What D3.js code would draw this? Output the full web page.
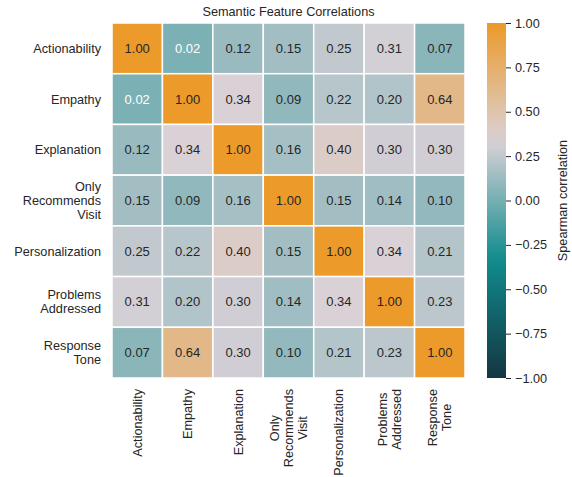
<!DOCTYPE html>
<html>
<head>
<meta charset="utf-8">
<script src="https://cdn.jsdelivr.net/npm/d3@7"></script>
<style>
  body { margin: 0; background: #fff; }
  text { font-family: "Liberation Sans", Arial, sans-serif; fill: #262626; }
</style>
</head>
<body>
<svg width="572" height="477"></svg>
<script>
// features, in row / column order
var features = ['Actionability', 'Empathy', 'Explanation', 'Only Recommends Visit',
                'Personalization', 'Problems Addressed', 'Response Tone'];
// label lines as drawn
var labelLines = [['Actionability'], ['Empathy'], ['Explanation'], ['Only', 'Recommends', 'Visit'],
                  ['Personalization'], ['Problems', 'Addressed'], ['Response', 'Tone']];
// spearman correlation matrix
var corr = [
  [1.00, 0.02, 0.12, 0.15, 0.25, 0.31, 0.07],
  [0.02, 1.00, 0.34, 0.09, 0.22, 0.20, 0.64],
  [0.12, 0.34, 1.00, 0.16, 0.40, 0.30, 0.30],
  [0.15, 0.09, 0.16, 1.00, 0.15, 0.14, 0.10],
  [0.25, 0.22, 0.40, 0.15, 1.00, 0.34, 0.21],
  [0.31, 0.20, 0.30, 0.14, 0.34, 1.00, 0.23],
  [0.07, 0.64, 0.30, 0.10, 0.21, 0.23, 1.00]
];
var cbTicks = [1, 0.75, 0.5, 0.25, 0, -0.25, -0.5, -0.75, -1];
var paletteColors = ['#143642', '#0f8b8d', '#dad2d8', '#ec9a29'];

var svg = d3.select('svg');
var mLeft = 112, mTop = 23, mRight = 465, mBottom = 378;
var fs = '12.7px';

var color = d3.scaleLinear()
    .domain([-1, -1/3, 1/3, 1])
    .range(paletteColors)
    .interpolate(d3.interpolateRgb);

var x = d3.scaleBand().domain(features).range([mLeft, mRight]);
var y = d3.scaleBand().domain(features).range([mTop, mBottom]);

var cells = [];
corr.forEach(function(row, i) {
    row.forEach(function(v, j) { cells.push({r: features[i], c: features[j], v: v}); });
});

var g = svg.append('g');
g.selectAll('rect').data(cells).enter().append('rect')
    .attr('x', function(d) { return x(d.c); })
    .attr('y', function(d) { return y(d.r); })
    .attr('width', x.bandwidth())
    .attr('height', y.bandwidth())
    .attr('fill', function(d) { return color(d.v); })
    .attr('stroke', '#fff')
    .attr('stroke-width', 1.5);

// darker cells (low values) get white text
g.selectAll('text.val').data(cells).enter().append('text')
    .attr('class', 'val')
    .attr('x', function(d) { return x(d.c) + x.bandwidth() / 2; })
    .attr('y', function(d) { return y(d.r) + y.bandwidth() / 2; })
    .attr('dy', '0.35em')
    .attr('text-anchor', 'middle')
    .style('font-size', '13px')
    .style('fill', function(d) { return d.v < 0.05 ? '#ffffff' : '#262626'; })
    .text(function(d) { return d.v.toFixed(2); });

// y labels
features.forEach(function(f, i) {
    var lines = labelLines[i];
    var cy = y(f) + y.bandwidth() / 2;
    var t = svg.append('text')
        .attr('text-anchor', 'end')
        .style('font-size', fs);
    lines.forEach(function(l, k) {
        t.append('tspan')
            .attr('x', mLeft - 11)
            .attr('y', cy + (k - (lines.length - 1) / 2) * 14)
            .attr('dy', '0.35em')
            .text(l);
    });
});

// x labels, rotated; lines centred within the block, block hangs from the top
features.forEach(function(f, i) {
    var lines = labelLines[i];
    var cx = x(f) + x.bandwidth() / 2;
    var t = svg.append('text')
        .attr('text-anchor', 'middle')
        .style('font-size', fs);
    var spans = lines.map(function(l, k) {
        return t.append('tspan')
            .attr('y', (k - (lines.length - 1) / 2) * 14)
            .attr('dy', '0.35em')
            .text(l);
    });
    var maxW = d3.max(spans, function(s) { return s.node().getComputedTextLength(); });
    spans.forEach(function(s) { s.attr('x', -maxW / 2); });
    t.attr('transform', 'translate(' + cx + ',' + (mBottom + 11) + ') rotate(-90)');
});

svg.append('text')
    .attr('x', (mLeft + mRight) / 2)
    .attr('y', 16)
    .attr('text-anchor', 'middle')
    .style('font-size', fs)
    .text('Semantic Feature Correlations');

// colorbar
var cbX = 487, cbW = 19;
var cbScale = d3.scaleLinear().domain([-1, 1]).range([mBottom, mTop]);
var defs = svg.append('defs');
var grad = defs.append('linearGradient').attr('id', 'cbgrad')
    .attr('x1', 0).attr('y1', 1).attr('x2', 0).attr('y2', 0);
d3.range(0, 1.0001, 0.05).forEach(function(t) {
    grad.append('stop').attr('offset', t).attr('stop-color', color(-1 + 2 * t));
});
svg.append('rect')
    .attr('x', cbX).attr('y', mTop)
    .attr('width', cbW).attr('height', mBottom - mTop)
    .attr('fill', 'url(#cbgrad)');

var cbAxis = svg.append('g')
    .attr('transform', 'translate(' + (cbX + cbW) + ',0)')
    .call(d3.axisRight(cbScale).tickValues(cbTicks).tickSize(5).tickPadding(4)
        .tickFormat(function(d) { return d3.format('.2f')(d).replace('-', '\u2212'); }));
cbAxis.select('.domain').remove();
cbAxis.selectAll('line').attr('stroke', '#262626').attr('stroke-width', 1);
cbAxis.selectAll('text').style('font-size', fs).style('font-family', '"Liberation Sans", Arial, sans-serif').attr('fill', '#262626');

svg.append('text')
    .attr('transform', 'translate(' + 563 + ',' + ((mTop + mBottom) / 2) + ') rotate(-90)')
    .attr('text-anchor', 'middle')
    .attr('dy', '0.35em')
    .style('font-size', fs)
    .text('Spearman correlation');
</script>
</body>
</html>
